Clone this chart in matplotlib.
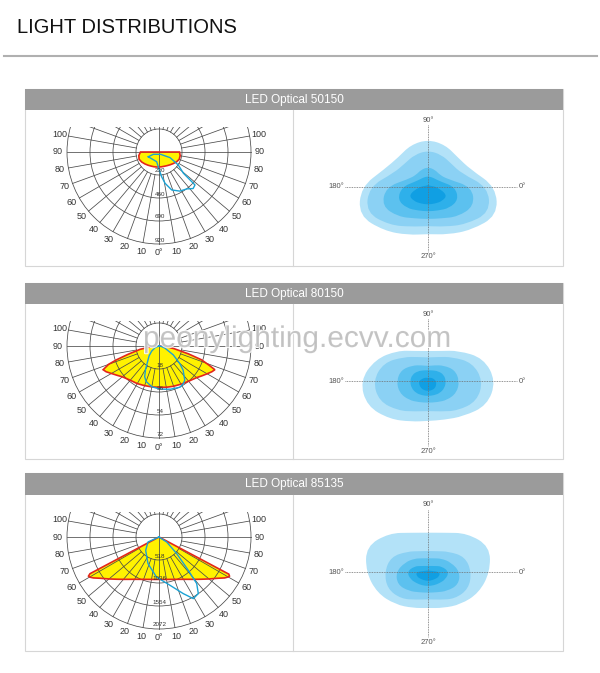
import numpy as np
import matplotlib.pyplot as plt
from matplotlib.patches import Rectangle, Circle, Polygon, PathPatch
from matplotlib.path import Path
import matplotlib.patheffects as pe

plt.rcParams['font.family'] = ['Liberation Sans', 'DejaVu Sans']

W, H = 600, 673

titles = ['LED Optical 50150', 'LED Optical 80150', 'LED Optical 85135']
ring_50150 = [230, 460, 690, 920]
ring_80150 = [18, 36, 54, 72]
ring_85135 = [518, 1036, 1554, 2072]
gamma_labels = [10, 20, 30, 40, 50, 60, 70, 80, 90, 100]

# C0-C180 plane (yellow): gamma from nadir (deg, - = left), intensity (cd)
c0_ang_50150 = [-90, -80, -70, -60, -50, -40, -30, -20, -10, 0, 10, 20, 30, 40, 50, 60, 70, 80, 90]
c0_val_50150 = [185, 205, 212, 200, 185, 172, 162, 156, 152, 150, 150, 152, 158, 168, 182, 200, 215, 215, 205]
c0_ang_80150 = [-90, -85, -80, -75, -72, -70, -67, -64, -60, -55, -50, -40, -30, -20, -10, 0,
                10, 20, 30, 40, 50, 55, 60, 64, 67, 69, 72, 75, 80, 85, 90]
c0_val_80150 = [0, 6, 15, 25, 35, 42, 47.5, 46, 43, 40, 37.5, 35, 34, 33, 32.5, 32.3,
                32.8, 33.5, 34.5, 36, 38.5, 40.8, 43.5, 46, 47.5, 42, 35, 24, 12, 5, 0]
c0_ang_85135 = [-90, -63, -62, -61, -60, -58, -55, -50, -45, -40, -30, -20, -10, 0,
                10, 20, 30, 40, 45, 50, 55, 58, 60, 61, 62, 63, 90]
c0_val_85135 = [0, 0, 1760, 1815, 1805, 1740, 1620, 1470, 1345, 1245, 1100, 1015, 970, 955,
                970, 1015, 1100, 1245, 1345, 1470, 1620, 1740, 1800, 1815, 1780, 0, 0]

# C90-C270 plane (blue line)
c90_ang_50150 = [-66, -68, 36, 63, 56, 49, 48, 47.5, 43, 37, 28, 18.5, 11, 6, 1, -13.5, -66]
c90_val_50150 = [117, 61, 29, 124, 233, 323, 418, 488, 500, 462, 443, 400, 319, 248, 180, 100, 117]
c90_ang_80150 = [-90, -70, -55, -45, -38, -30, -25, -20, -10, 0, 6, 15, 27, 33, 37, 45, 50, 58, 70, 80, 90]
c90_val_80150 = [0, 3, 7, 11, 14, 21, 26.5, 29.5, 32.4, 33.5, 34, 35, 36.2, 35, 33.5, 26.7, 21, 13.2, 5, 2, 0]
c90_ang_85135 = [-90, -65.6, -45, -22.5, -3.7, 12.8, 23.2, 29.1, 34.8, 39, 41.3, 46.8, 57, 90]
c90_val_85135 = [0, 272, 424, 648, 903, 1115, 1387, 1588, 1552, 1349, 999, 547, 207, 0]

# isolux contours: radius at each direction, outer -> inner
iso_angles = [0, 22.5, 45, 67.5, 90, 112.5, 135, 157.5, 180, 202.5, 225, 247.5, 270, 292.5, 315, 337.5]
iso_50150 = [
    [68, 46, 42, 45.5, 47.5, 45.5, 42, 47, 67, 75, 62, 52, 47, 51.5, 61, 75],
    [60, 36, 33, 35, 36.5, 35, 33, 37, 59, 67, 54, 43, 39, 43, 53, 67],
    [44, 21, 17, 18.5, 20, 18.5, 17, 21, 42, 50, 42, 34, 32, 34, 42, 50],
    [27, 14, 11, 10.5, 10.6, 10.5, 11, 14, 26, 33, 30, 25.5, 24.4, 25.5, 30, 33],
    [9, 3, 2, 2, 2, 2, 2, 3, 9, 21, 20, 18, 17.5, 18, 20, 21],
]
iso_80150 = [
    [68, 60, 43, 32.5, 30, 32.5, 43, 57, 68, 66, 54, 44, 40, 42, 50, 64],
    [55, 48, 34, 26, 23.5, 26, 34, 48, 55, 53, 42, 33, 30, 33, 42, 53],
    [31.5, 29, 22, 17, 15, 17, 22, 29, 31.5, 31, 27, 23, 21.7, 23, 27, 31],
    [18, 17, 14, 11.5, 10.7, 11.5, 14, 17, 18, 18, 17, 15.5, 15, 15.5, 17, 18],
    [8, 6, 4.5, 3.5, 3, 3.5, 4.5, 6, 9, 9.5, 10, 10, 10, 10, 10, 9],
]
iso_85135 = [
    [62, 67, 55, 42.5, 39.3, 42.5, 55, 67, 62, 55, 46, 39, 36, 39, 46, 55],
    [43.5, 40, 29, 22.5, 21, 22.5, 29, 40, 43.5, 44, 38, 30, 27.3, 30, 38, 44],
    [32, 25, 19, 14.8, 13.7, 14.8, 19, 25, 32, 33, 27, 22, 20.7, 22, 27, 33],
    [21, 15, 8.5, 6.5, 6, 6.5, 8.5, 15, 21, 19, 16, 14.5, 14, 14.5, 16, 19],
    [12, 3, 2, 1.5, 1.5, 1.5, 2, 3, 12, 12, 10, 9, 9, 9, 10, 12],
]
iso_colors = ['#b3e2f8', '#8bd1f4', '#5cc1ef', '#2eb0ea', '#109fe3']

panels = [
    (titles[0], ring_50150, c0_ang_50150, c0_val_50150, c90_ang_50150, c90_val_50150, iso_50150),
    (titles[1], ring_80150, c0_ang_80150, c0_val_80150, c90_ang_80150, c90_val_80150, iso_80150),
    (titles[2], ring_85135, c0_ang_85135, c0_val_85135, c90_ang_85135, c90_val_85135, iso_85135),
]
head_top = [89, 283, 473]
head_bot = [110, 304, 495]
body_bot = [266, 459, 651]

fig = plt.figure(figsize=(W / 100, H / 100), dpi=100)
bg = fig.add_axes([0, 0, 1, 1])
bg.set_xlim(0, W)
bg.set_ylim(H, 0)
bg.set_axis_off()

bg.text(17, 33, 'LIGHT DISTRIBUTIONS', fontsize=14.5, color='#111111', va='baseline')
bg.plot([4, 597], [56, 56], color='#b0b0b0', lw=1.5)


def pix_axes(x0, y0, x1, y1):
    ax = fig.add_axes([x0 / W, 1 - y1 / H, (x1 - x0) / W, (y1 - y0) / H])
    ax.set_axis_off()
    return ax


def smooth_path(xs, ys):
    n = len(xs)
    mx = [(xs[i] + xs[(i + 1) % n]) / 2 for i in range(n)]
    my = [(ys[i] + ys[(i + 1) % n]) / 2 for i in range(n)]
    verts = [(mx[-1], my[-1])]
    codes = [Path.MOVETO]
    for i in range(n):
        verts += [(xs[i], ys[i]), (mx[i], my[i])]
        codes += [Path.CURVE3, Path.CURVE3]
    verts.append((0, 0))
    codes.append(Path.CLOSEPOLY)
    return Path(verts, codes)


def draw_polar(ax, rings, a0, v0, a1, v1, cx, cy, x0, x1, y0, y1):
    k = rings[-1] / 92.0
    ax.set_xlim((x0 - cx) * k, (x1 - cx) * k)
    ax.set_ylim(-(y1 - cy) * k, (cy - y0) * k)
    r_in, r_out = rings[0], rings[-1]
    clip = Rectangle((-2 * r_out, -2 * r_out), 4 * r_out, 2 * r_out + 25 * k,
                     transform=ax.transData)

    t0 = np.radians(a0)
    xy0 = np.column_stack([np.array(v0) * np.sin(t0), -np.array(v0) * np.cos(t0)])
    ax.add_patch(Polygon(xy0, closed=True, fc='#fff200', ec='none', zorder=1))

    for g in range(0, 360, 10):
        t = np.radians(g)
        r0 = 0 if g % 90 == 0 else r_in
        ln, = ax.plot([r0 * np.sin(t), r_out * np.sin(t)], [-r0 * np.cos(t), -r_out * np.cos(t)],
                      color='#4a4a4a', lw=0.55, zorder=2)
        ln.set_clip_path(clip)
    for r in rings:
        c = Circle((0, 0), r, fill=False, ec='#4a4a4a', lw=0.55, zorder=2)
        ax.add_patch(c)
        c.set_clip_path(clip)

    ax.add_patch(Polygon(xy0, closed=True, fill=False, ec='#e3261b', lw=1.2, zorder=3))
    t1 = np.radians(a1)
    ax.plot(np.array(v1) * np.sin(t1), -np.array(v1) * np.cos(t1), color='#1aa2d4', lw=1.0, zorder=4)

    rl = 101 * k
    for a in gamma_labels:
        for s in (-1, 1):
            t = np.radians(s * a)
            ax.text(rl * np.sin(t), -rl * np.cos(t), str(a), fontsize=6.5, color='#333333',
                    ha='center', va='center')
    ax.text(0, -rl, '0°', fontsize=6.5, color='#333333', ha='center', va='center')
    for r in rings:
        ax.text(0.8 * k, -(r - 4 * k), str(r), fontsize=4.5, color='#333333',
                ha='center', va='center', zorder=5)


def draw_iso(ax, levels, cx, cy, x0, x1, y0, y1):
    ax.set_xlim(x0 - cx, x1 - cx)
    ax.set_ylim(-(y1 - cy), cy - y0)
    t = np.radians(iso_angles)
    for radii, col in zip(levels, iso_colors):
        r = np.array(radii)
        ax.add_patch(PathPatch(smooth_path(r * np.cos(t), r * np.sin(t)), fc=col, ec='none', zorder=1))
    ax.plot([-83, 89], [0, 0], color='#6f6f6f', lw=0.6, ls=(0, (1, 1)), zorder=2)
    ax.plot([0, 0], [62, -65], color='#6f6f6f', lw=0.6, ls=(0, (1, 1)), zorder=2)
    lab = dict(fontsize=5.5, color='#555555', va='center')
    ax.text(0, 67, '90°', ha='center', **lab)
    ax.text(0, -70, '270°', ha='center', **lab)
    ax.text(-84, 0, '180°', ha='right', **lab)
    ax.text(91, 0, '0°', ha='left', **lab)


for i, (title, rings, a0, v0, a1, v1, iso) in enumerate(panels):
    ht, hb, bb = head_top[i], head_bot[i], body_bot[i]
    bg.add_patch(Rectangle((25, ht), 538, bb - ht, fc='white', ec='#d6d6d6', lw=0.8))
    bg.add_patch(Rectangle((25, ht), 538, hb - ht, fc='#9b9b9b', ec='none'))
    bg.plot([293, 293], [hb, bb], color='#d6d6d6', lw=0.8)
    bg.text(294, (ht + hb) / 2, title, fontsize=8.5, color='white', ha='center', va='center')

    axp = pix_axes(26, hb + 1, 292, bb - 1)
    draw_polar(axp, rings, a0, v0, a1, v1, 159, hb + 42, 26, 292, hb + 1, bb - 1)
    axi = pix_axes(294, hb + 1, 562, bb - 1)
    draw_iso(axi, iso, 428, hb + 77, 294, 562, hb + 1, bb - 1)

fig.text(143 / W, 1 - 347 / H, 'peonylighting.ecvv.com', fontsize=21.5, color='#bdbdbd',
         alpha=0.85, va='baseline', ha='left', zorder=20,
         path_effects=[pe.withStroke(linewidth=1.5, foreground='white')])

fig.savefig('out.png', dpi=100)
